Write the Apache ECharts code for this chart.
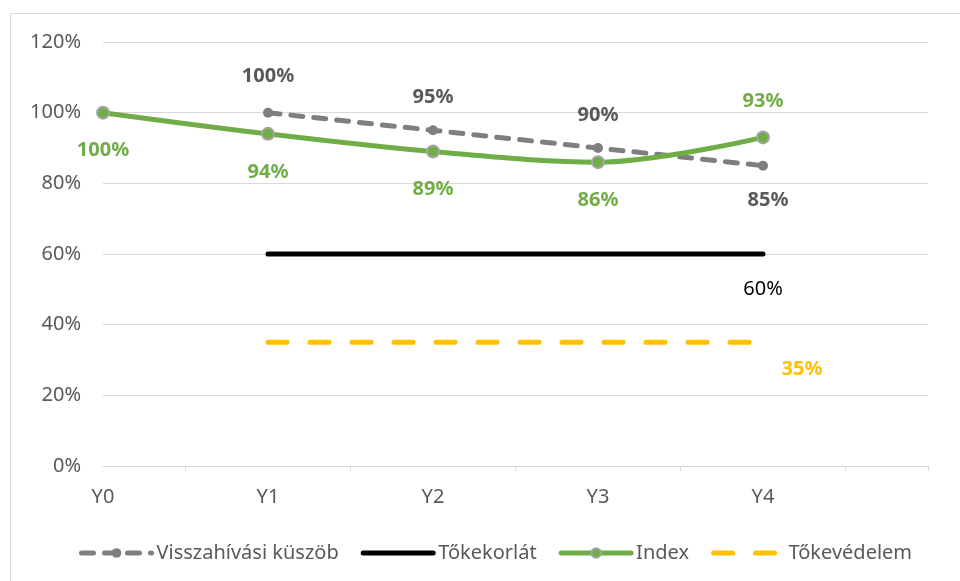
<!DOCTYPE html>
<html>
<head>
<meta charset="utf-8">
<script src="https://cdn.jsdelivr.net/npm/echarts@6/dist/echarts.min.js"></script>
<style>
  html, body { margin: 0; padding: 0; background: #fff; }
  #chart { width: 960px; height: 581px; }
</style>
</head>
<body>
<div id="chart"></div>
<script>
// adatok
var categories = ['Y0', 'Y1', 'Y2', 'Y3', 'Y4', ''];
var tickSlots = ['', '', '', '', '', '', '', '', '', '', ''];
var recallValues = [null, 1.00, 0.95, 0.90, 0.85, null];
var capLimitValues = [null, 0.60, 0.60, 0.60, 0.60, null];
var indexValues = [1.00, 0.94, 0.89, 0.86, 0.93, null];
var protectionValues = [null, 0.35, 0.35, 0.35, 0.35, null];

var FONT = 'Noto Sans';
var pct = function (v) { return Math.round(v * 100) + '%'; };

var myChart = echarts.init(document.getElementById('chart'));

// címkék pontonként
var recallData = recallValues.map(function (v, i) {
    if (v === null) return null;
    if (i === 4) {
        return { value: v, label: { position: 'bottom', distance: 20, offset: [5, 0] } };
    }
    return { value: v, label: { position: 'top', distance: i === 1 ? 21 : 18 } };
});
var indexData = indexValues.map(function (v, i) {
    if (v === null) return null;
    if (i === 4) return { value: v, label: { position: 'top', distance: 19 } };
    return { value: v, label: { position: 'bottom', distance: 21 } };
});

var option = {
    backgroundColor: '#fff',
    animation: false,
    textStyle: { fontFamily: FONT },
    graphic: [{
        type: 'rect',
        shape: { x: 10.5, y: 13.5, width: 1200, height: 1200 },
        style: { fill: 'none', stroke: '#d9d9d9', lineWidth: 1 },
        silent: true
    }],
    grid: { left: 103, right: 32, top: 42, bottom: 115 },
    legend: {
        left: 74,
        top: 538,
        itemWidth: 70,
        itemHeight: 12,
        itemGap: 22,
        lineStyle: { width: 5, cap: 'round' },
        textStyle: { fontFamily: FONT, fontSize: 20, color: '#595959' },
        data: [
            'Visszahívási küszöb',
            { name: 'Tőkekorlát', itemStyle: { opacity: 0 } },
            'Index',
            { name: 'Tőkevédelem', itemStyle: { opacity: 0 } }
        ]
    },
    xAxis: [{
        type: 'category',
        data: categories,
        boundaryGap: false,
        axisLine: { lineStyle: { color: '#d9d9d9', width: 1 } },
        axisTick: { show: false },
        axisLabel: { color: '#595959', fontFamily: FONT, fontSize: 20, margin: 21 }
    }, {
        // csak a kategóriák közötti osztásjelekhez
        type: 'category',
        data: tickSlots,
        boundaryGap: false,
        position: 'bottom',
        axisLine: { show: false },
        axisLabel: { show: false },
        axisTick: {
            show: true,
            length: 5,
            interval: function (i) { return i % 2 === 1 || i === 10; },
            lineStyle: { color: '#d9d9d9', width: 1 }
        }
    }],
    yAxis: {
        type: 'value',
        min: 0,
        max: 1.2,
        interval: 0.2,
        axisLine: { show: false },
        axisTick: { show: false },
        splitLine: { lineStyle: { color: '#d9d9d9', width: 1 } },
        axisLabel: {
            color: '#595959', fontFamily: FONT, fontSize: 20, margin: 22,
            formatter: pct
        }
    },
    series: [
        {
            name: 'Visszahívási küszöb',
            type: 'line',
            data: recallData,
            symbol: 'circle',
            symbolSize: 10,
            itemStyle: { color: '#7f7f7f' },
            lineStyle: { color: '#7f7f7f', width: 5, type: [12, 11], cap: 'round' },
            label: {
                show: true, formatter: function (p) { return pct(p.value); },
                color: '#595959', fontWeight: 'bold', fontFamily: FONT, fontSize: 20
            },
            z: 3
        },
        {
            name: 'Tőkekorlát',
            type: 'line',
            data: capLimitValues,
            symbol: 'none',
            itemStyle: { color: '#000' },
            lineStyle: { color: '#000', width: 5, cap: 'round' },
            endLabel: {
                show: true,
                formatter: function (p) { return pct(p.value); },
                align: 'center', verticalAlign: 'middle', distance: 0, offset: [0, 35],
                color: '#000', fontFamily: FONT, fontSize: 20
            },
            z: 2
        },
        {
            name: 'Index',
            type: 'line',
            data: indexData,
            smooth: 0.35,
            symbol: 'circle',
            symbolSize: 12,
            itemStyle: { color: '#70ad47', borderColor: '#a5a5a5', borderWidth: 2 },
            lineStyle: { color: '#70ad47', width: 5 },
            label: {
                show: true, formatter: function (p) { return pct(p.value); },
                color: '#70ad47', fontWeight: 'bold', fontFamily: FONT, fontSize: 20
            },
            z: 4
        },
        {
            name: 'Tőkevédelem',
            type: 'line',
            data: protectionValues,
            symbol: 'none',
            itemStyle: { color: '#ffc000' },
            lineStyle: { color: '#ffc000', width: 5, type: [19, 23], cap: 'round' },
            endLabel: {
                show: true,
                formatter: function (p) { return pct(p.value); },
                align: 'center', verticalAlign: 'middle', distance: 0, offset: [39, 27],
                color: '#ffc000', fontWeight: 'bold', fontFamily: FONT, fontSize: 20
            },
            z: 2
        }
    ]
};

myChart.setOption(option);
</script>
</body>
</html>
